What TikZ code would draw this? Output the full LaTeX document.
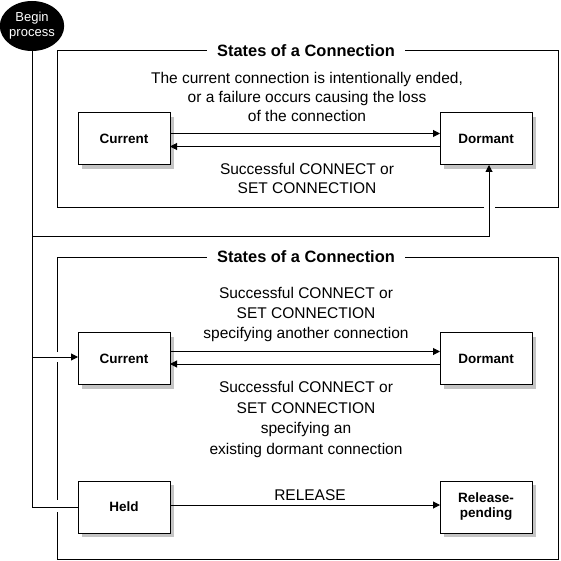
\documentclass[tikz,border=0pt]{standalone}
\usepackage{fontspec}
\setmainfont{Liberation Sans}
\usetikzlibrary{arrows.meta,shapes.geometric,shadows,calc}
\definecolor{shadowgray}{RGB}{196,196,196}
\begin{document}
\begin{tikzpicture}[x=1pt,y=-1pt,line width=1pt,
  every node/.style={inner sep=0pt,outer sep=0pt},
  statebox/.style={draw,fill=white,minimum width=92pt,minimum height=52pt,
    font=\fontsize{13.5}{15}\selectfont\bfseries,align=center,
    general shadow={fill=shadowgray,shadow xshift=4pt,shadow yshift=-4pt}},
  startnode/.style={ellipse,fill=black,text=white,minimum width=64pt,minimum height=50pt,
    font=\fontsize{13}{15}\selectfont,align=center},
  frametitle/.style={fill=white,inner xsep=10pt,font=\fontsize{16.4}{19}\selectfont\bfseries},
  label/.style={align=center,font=\fontsize{15.5}{19}\selectfont},
  arr/.style={-{Triangle[length=7pt,width=7pt]}}]
\useasboundingbox (0,0) rectangle (561,561);

% frames
\draw (484,207) -- (57,207) -- (57,51) -- (558,51) -- (558,207) -- (495,207);
\draw (57,352) -- (57,257) -- (558,257) -- (558,559) -- (57,559) -- (57,512);
\draw (57,362) -- (57,500);
\node[frametitle] (title1) at (306,51) {States of a Connection};
\node[frametitle] (title2) at (306,257) {States of a Connection};

% states
\node[startnode] (begin) at (32,26) {Begin\\process};
\node[statebox] (cur1) at (124,139) {Current};
\node[statebox] (dor1) at (486,139) {Dormant};
\node[statebox] (cur2) at (124,358.5) {Current};
\node[statebox] (dor2) at (486,358.5) {Dormant};
\node[statebox] (held) at (124,507) {Held};
\node[statebox] (rel) at (486,507) {Release-\\pending};

% labels
\node[label] (t1) at (307,97) {The current connection is intentionally ended,\\or a failure occurs causing the loss\\of the connection};
\node[label] (t2) at (307,178.5) {Successful CONNECT or\\SET CONNECTION};
\node[label,font=\fontsize{15.5}{20}\selectfont] (t3) at (306,314.5) {Successful CONNECT or\\SET CONNECTION\\specifying another connection};
\node[label,font=\fontsize{15.5}{20.7}\selectfont] (t4) at (306,419.5) {Successful CONNECT or\\SET CONNECTION\\specifying an\\existing dormant connection};
\node[label] (trel) at (310,495) {RELEASE};

% connectors
\coordinate (j1) at (begin.south |- 0,236);
\coordinate (j2) at (begin.south |- 0,357);
\draw (begin.south) -- (begin.south |- held.west) -- (held.west);
\draw[arr] (j1) -| ($(dor1.south)+(3,0)$);
\draw[arr] (j2) -- (j2 -| cur2.west);
\draw[arr] ($(cur1.east)+(0,-5.5)$) -- ($(dor1.west)+(0,-5.5)$);
\draw[arr] ($(dor1.west)+(0,7.5)$) -- ($(cur1.east)+(0,7.5)$);
\draw[arr] ($(cur2.east)+(0,-7)$) -- ($(dor2.west)+(0,-7)$);
\draw[arr] ($(dor2.west)+(0,5.5)$) -- ($(cur2.east)+(0,5.5)$);
\draw[arr] ($(held.east)+(0,-2)$) -- ($(rel.west)+(0,-2)$);
\end{tikzpicture}
\end{document}
